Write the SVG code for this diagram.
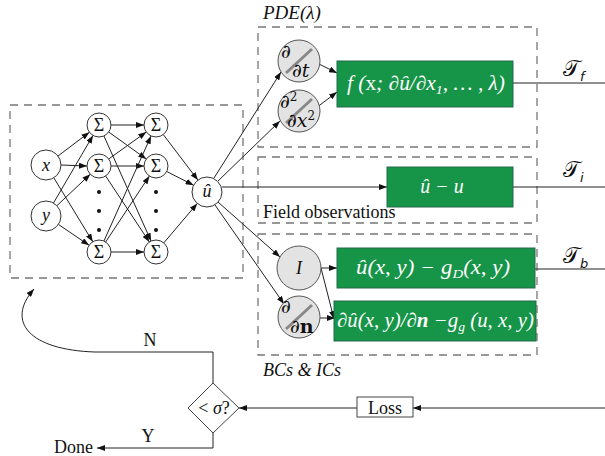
<svg xmlns="http://www.w3.org/2000/svg" width="605" height="456" viewBox="0 0 605 456">
<defs>
<marker id="ah" markerWidth="8" markerHeight="6" refX="8" refY="3" orient="auto" markerUnits="userSpaceOnUse"><path d="M0,0 L8,3 L0,6 z" fill="#111"/></marker>
<style>
.dash{fill:none;stroke:#777;stroke-width:1.3;stroke-dasharray:8,6}
.ln{fill:none;stroke:#222;stroke-width:1}
.arr{fill:none;stroke:#222;stroke-width:1;marker-end:url(#ah)}
.nn{fill:#fff;stroke:#333;stroke-width:1}
.dv{fill:#e3e3e3;stroke:#555;stroke-width:1}
.gb{fill:#169447;stroke:#236b4e;stroke-width:1}
.gt{fill:#fff;font-family:"Liberation Serif",serif;font-style:italic;font-size:20px}
.tm{font-family:"Liberation Serif",serif;fill:#111}
.it{font-style:italic}
.sg{font-family:"Liberation Serif",serif;font-size:18px;text-anchor:middle;fill:#111}
.pd{font-family:"DejaVu Serif",serif;font-size:19px;fill:#111}
.sl{stroke:#888;stroke-width:3}
.tl{font-family:"DejaVu Sans","Noto Sans",serif;font-size:22px;fill:#111}
</style>
</defs>

<g id="boxes">
<rect class="dash" x="10" y="105" width="233" height="173"/>
<rect class="dash" x="258" y="27" width="279" height="120"/>
<rect class="dash" x="258" y="157" width="279" height="66"/>
<rect class="dash" x="258" y="234" width="279" height="121"/>
</g>

<g id="connectors">
<line class="arr" x1="58" y1="156" x2="89.4" y2="132.2"/>
<line class="arr" x1="61" y1="165" x2="87" y2="166"/>
<line class="arr" x1="53.8" y1="177.8" x2="92.8" y2="241.8"/>
<line class="arr" x1="53.5" y1="203" x2="93" y2="135.4"/>
<line class="arr" x1="56.9" y1="205.7" x2="90.3" y2="174.2"/>
<line class="arr" x1="58.4" y1="224.4" x2="89.1" y2="245.3"/>
<line class="arr" x1="111" y1="125" x2="144" y2="125"/>
<line class="arr" x1="108.7" y1="132" x2="146.3" y2="159"/>
<line class="arr" x1="103.9" y1="135.9" x2="151.1" y2="241.1"/>
<line class="arr" x1="108.7" y1="159" x2="146.3" y2="132"/>
<line class="arr" x1="111" y1="166" x2="144" y2="166"/>
<line class="arr" x1="105.6" y1="176" x2="149.4" y2="242"/>
<line class="arr" x1="103.9" y1="241.1" x2="151.1" y2="135.9"/>
<line class="arr" x1="105.6" y1="242" x2="149.4" y2="176"/>
<line class="arr" x1="111" y1="252" x2="144" y2="252"/>
<line class="arr" x1="163.3" y1="134.6" x2="197.9" y2="180.1"/>
<line class="arr" x1="166.7" y1="171.5" x2="193.6" y2="185.2"/>
<line class="arr" x1="163.8" y1="242.9" x2="197.3" y2="203.4"/>
<line class="arr" x1="214" y1="178" x2="281" y2="72"/>
<line class="arr" x1="218" y1="181" x2="280" y2="121"/>
<line class="arr" x1="222" y1="187" x2="387" y2="187"/>
<line class="arr" x1="218" y1="202" x2="280" y2="257"/>
<line class="arr" x1="215" y1="205" x2="284" y2="304"/>
<line class="arr" x1="315" y1="62" x2="337" y2="73"/>
<line class="arr" x1="316" y1="108" x2="337" y2="92"/>
<line class="arr" x1="321" y1="268" x2="337" y2="268"/>
<line class="arr" x1="321" y1="268" x2="334" y2="319"/>
<line class="arr" x1="320" y1="318" x2="335" y2="318"/>
<line class="ln" x1="513" y1="83" x2="605" y2="83"/>
<line class="ln" x1="513" y1="187" x2="605" y2="187"/>
<line class="ln" x1="535" y1="269" x2="605" y2="269"/>
<line class="arr" x1="605" y1="408" x2="413" y2="408"/>
<line class="arr" x1="357" y1="408" x2="239" y2="408"/>
<path class="arr" d="M213,383 V352 H95 C30,350 5,322 34,289"/>
<path class="arr" d="M213,433 V448 H97"/>
</g>

<g id="x"><circle class="nn" cx="46" cy="165" r="15"/><text class="sg it" x="46" y="171">x</text></g>
<g id="y"><circle class="nn" cx="46" cy="216" r="15"/><text class="sg it" x="46" y="221">y</text></g>
<g id="s1a"><circle class="nn" cx="99" cy="125" r="12"/><text class="sg" x="99" y="131">Σ</text></g>
<g id="s1b"><circle class="nn" cx="99" cy="166" r="12"/><text class="sg" x="99" y="172">Σ</text></g>
<g id="s1c"><circle class="nn" cx="99" cy="252" r="12"/><text class="sg" x="99" y="258">Σ</text></g>
<g id="s2a"><circle class="nn" cx="156" cy="125" r="12"/><text class="sg" x="156" y="131">Σ</text></g>
<g id="s2b"><circle class="nn" cx="156" cy="166" r="12"/><text class="sg" x="156" y="172">Σ</text></g>
<g id="s2c"><circle class="nn" cx="156" cy="252" r="12"/><text class="sg" x="156" y="258">Σ</text></g>
<g id="dots" fill="#111">
<circle cx="99" cy="192" r="2"/><circle cx="99" cy="211" r="2"/><circle cx="99" cy="230" r="2"/>
<circle cx="156" cy="192" r="2"/><circle cx="156" cy="211" r="2"/><circle cx="156" cy="230" r="2"/>
</g>
<g id="uhat"><circle class="nn" cx="207" cy="192" r="15"/><text class="sg it" x="207" y="197">û</text></g>

<g id="ddt"><circle class="dv" cx="299" cy="61" r="21"/>
<line class="sl" x1="286" y1="73" x2="312" y2="49"/>
<text class="pd" x="281" y="58">∂</text><text class="pd" x="292" y="77">∂<tspan class="it">t</tspan></text></g>
<g id="ddx2"><circle class="dv" cx="299" cy="111" r="21"/>
<line class="sl" x1="286" y1="123" x2="312" y2="99"/>
<text class="pd" x="280" y="108">∂<tspan font-size="12" dy="-7">2</tspan></text><text class="pd" x="287" y="127">∂<tspan class="it">x</tspan><tspan font-size="12" dy="-7">2</tspan></text></g>
<g id="fbox"><rect class="gb" x="337" y="61" width="176" height="46"/>
<text class="gt" x="347" y="90" textLength="158" lengthAdjust="spacingAndGlyphs">f (<tspan font-style="normal">x</tspan>; ∂û/∂x<tspan font-size="13" dy="4">1</tspan><tspan dy="-4">, … , λ)</tspan></text></g>
<g id="pde"><text class="tm it" x="263" y="19" font-size="19">PDE(λ)</text></g>
<g id="Tf"><text class="tl" x="563" y="76">𝒯<tspan font-size="13" font-style="italic" dy="5">f</tspan></text></g>

<g id="obs"><rect class="gb" x="387" y="167" width="126" height="40"/>
<text class="gt" x="442" y="193" text-anchor="middle">û − u</text>
<text class="tm" x="263" y="218" font-size="18">Field observations</text></g>
<g id="Ti"><text class="tl" x="563" y="177">𝒯<tspan font-size="13" font-style="italic" dy="5">i</tspan></text></g>

<g id="I"><circle class="dv" cx="299" cy="268" r="22"/><text class="sg it" x="299" y="274" font-size="19">I</text></g>
<g id="ddn"><circle class="dv" cx="299" cy="317" r="21"/>
<line class="sl" x1="286" y1="329" x2="312" y2="305"/>
<text class="pd" x="281" y="313">∂</text><text class="pd" x="290" y="333">∂<tspan font-weight="bold">n</tspan></text></g>
<g id="dirichlet"><rect class="gb" x="337" y="248" width="198" height="40"/>
<text class="gt" x="356" y="274" textLength="154" lengthAdjust="spacingAndGlyphs">û(x, y) − g<tspan font-size="13" dy="4">D</tspan><tspan dy="-4">(x, y)</tspan></text></g>
<g id="neumann"><rect class="gb" x="334" y="301" width="202" height="40"/>
<text class="gt" x="337" y="327" textLength="197" lengthAdjust="spacingAndGlyphs">∂û(x, y)/∂<tspan font-weight="bold">n</tspan> −g<tspan font-size="13" dy="4">g</tspan><tspan dy="-4"> (u, x, y)</tspan></text></g>
<g id="Tb"><text class="tl" x="563" y="263">𝒯<tspan font-size="13" font-style="italic" dy="5">b</tspan></text></g>
<g id="bcs"><text class="tm it" x="263" y="376" font-size="18">BCs &amp; ICs</text></g>

<g id="decision"><polygon points="213,383 239,408 213,433 188,408" fill="#fff" stroke="#444" stroke-width="1"/>
<text class="sg" x="214" y="414" font-size="20">&lt; <tspan class="it">σ</tspan>?</text></g>
<g id="loss"><rect x="357" y="397" width="56" height="20" fill="#fff" stroke="#444" stroke-width="1"/>
<text class="sg" x="385" y="414">Loss</text></g>
<g id="labels">
<text class="sg" x="150" y="346">N</text>
<text class="sg" x="148" y="442">Y</text>
<text class="tm" x="54" y="453" font-size="18">Done</text>
</g>
</svg>
